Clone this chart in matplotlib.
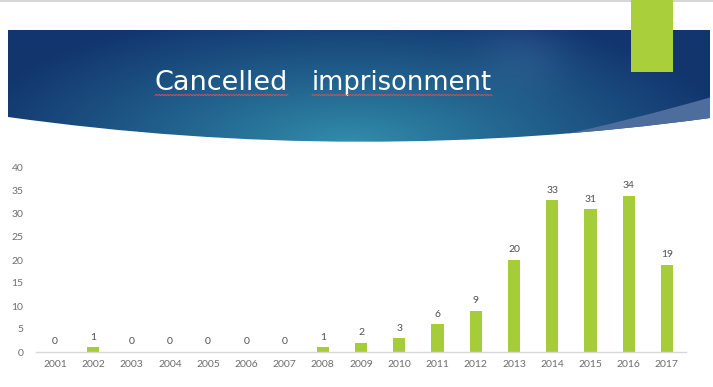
import numpy as np
import matplotlib
matplotlib.use("Agg")
import matplotlib.pyplot as plt
from matplotlib.path import Path
from matplotlib.patches import PathPatch, Rectangle

years = ["2001", "2002", "2003", "2004", "2005", "2006", "2007", "2008", "2009",
         "2010", "2011", "2012", "2013", "2014", "2015", "2016", "2017"]
counts = [0, 1, 0, 0, 0, 0, 0, 1, 2, 3, 6, 9, 20, 33, 31, 34, 19]
yticks = [0, 5, 10, 15, 20, 25, 30, 35, 40]
title_words = ["Cancelled", "imprisonment"]

W, H = 713, 387
fig = plt.figure(figsize=(W / 100, H / 100), dpi=100)
fig.patch.set_facecolor("white")

# ---- header band (pixel coordinates, y downward) ----
hax = fig.add_axes([0, 0, 1, 1])
hax.set_xlim(0, W)
hax.set_ylim(H, 0)
hax.axis("off")

hax.add_patch(Rectangle((0, 0), W, 1.5, color="#d6d6d6", lw=0))

gx, gy = np.meshgrid(np.linspace(0, W, 400), np.linspace(0, 160, 120))
cx, cy = 350, 145
d = np.sqrt(((gx - cx) / 390) ** 2 + ((gy - cy) / 140) ** 2)
d = np.clip(d, 0, 1) ** 0.9
c_center = np.array([0x32, 0x90, 0xad]) / 255
c_edge = np.array([0x12, 0x35, 0x6e]) / 255
img = c_center[None, None, :] * (1 - d[..., None]) + c_edge[None, None, :] * d[..., None]
hl = np.exp(-(((gx - 525) / 45) ** 2 + ((gy - 55) / 35) ** 2))
img = np.clip(img + 0.05 * hl[..., None], 0, 1)

R = 710
verts = [(8, 30), (R, 30), (R, 118), (359, 166), (8, 117), (8, 30)]
codes = [Path.MOVETO, Path.LINETO, Path.LINETO, Path.CURVE3, Path.CURVE3, Path.CLOSEPOLY]
band = PathPatch(Path(verts, codes), facecolor="none", edgecolor="none")
hax.add_patch(band)
im = hax.imshow(img, extent=(0, W, 160, 0), aspect="auto", zorder=1)
im.set_clip_path(band)

fverts = [(R + 5, 96), (640, 118), (540, 140), (R + 5, 140), (R + 5, 96)]
fcodes = [Path.MOVETO, Path.CURVE3, Path.CURVE3, Path.LINETO, Path.CLOSEPOLY]
flare = PathPatch(Path(fverts, fcodes), facecolor="#4d6d9d", edgecolor="none", zorder=2)
hax.add_patch(flare)
flare.set_clip_path(band)

hax.add_patch(Rectangle((631, 0), 42, 72, facecolor="#a9d03a", edgecolor="none", zorder=3))

# title, sized so that each word spans its width in the reference
fam = ["DejaVu Sans"]
spans = [(155, 288), (312, 492)]
renderer = fig.canvas.get_renderer()
for word, (xa, xb) in zip(title_words, spans):
    t = hax.text(xa, 90, word, color="white", fontsize=17, family=fam,
                 ha="left", va="baseline", zorder=4)
    w = t.get_window_extent(renderer).width
    t.set_fontsize(17 * (xb - xa) / w)
    xs = np.linspace(xa, xb, 300)
    hax.plot(xs, 95 + 0.7 * np.sin(xs * 2.2), color="#d9534f", lw=0.6, zorder=4)

# ---- bar chart ----
ax = fig.add_axes([36 / W, 35 / H, 650 / W, 184 / H])
x = np.arange(len(years))
ax.bar(x, counts, width=0.32, color="#a5cd39", zorder=2)
ax.set_xlim(-0.5, len(years) - 0.5)
ax.set_ylim(0, 40)
ax.set_yticks(yticks)
ax.set_xticks(x)
ax.set_xticklabels(years)
for s in ["top", "right", "left"]:
    ax.spines[s].set_visible(False)
ax.spines["bottom"].set_color("#d9d9d9")
ax.spines["bottom"].set_linewidth(1)
ax.tick_params(axis="both", length=0, labelsize=7.5, labelcolor="#6d6d6d")
ax.tick_params(axis="y", pad=9)
ax.tick_params(axis="x", pad=6)
for lab in ax.get_xticklabels() + ax.get_yticklabels():
    lab.set_family(["Lato", "DejaVu Sans"])
ax.set_facecolor("none")
for xi, v in zip(x, counts):
    ax.annotate(str(v), (xi, v), xytext=(0, 4), textcoords="offset points",
                ha="center", va="bottom", fontsize=7.5, color="#505050",
                family=["Lato", "DejaVu Sans"])

fig.savefig("out.png", dpi=100)
